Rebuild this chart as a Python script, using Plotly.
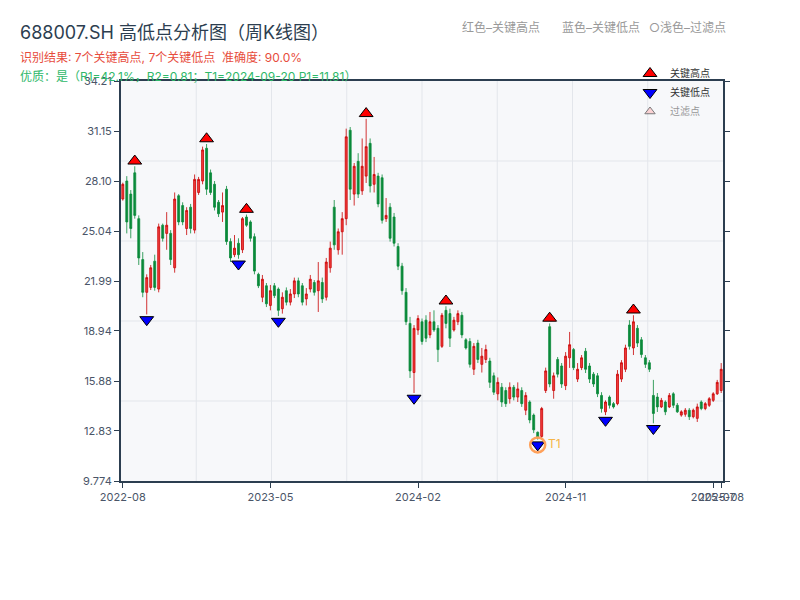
import pandas as pd
import plotly.graph_objects as go

# ---------------- data ----------------
fridays = pd.date_range("2022-08-26", "2025-08-08", freq="W-FRI")
closed_weeks = ["2022-10-07", "2023-01-27", "2023-10-06", "2024-02-16"]
dates = [d.strftime("%Y-%m-%d") for d in fridays if d.strftime("%Y-%m-%d") not in closed_weeks]

opens = [27.0, 28.1, 27.3, 28.6, 25.8, 23.3, 21.3, 21.6, 23.2, 21.5,
         25.4, 24.9, 24.9, 22.8, 27.2, 26.6, 25.2, 26.5, 25.1, 27.4,
         28.1, 30.1, 28.6, 27.9, 26.8, 26.2, 27.6, 24.4, 23.6, 24.3,
         23.9, 25.9, 25.6, 24.7, 22.4, 21.0, 21.7, 20.5, 21.7, 21.5,
         20.3, 21.4, 20.7, 21.2, 22.0, 21.7, 20.9, 21.5, 21.9, 21.4,
         21.9, 21.0, 22.8, 26.5, 23.9, 25.0, 25.8, 31.2, 27.3, 29.3,
         27.5, 28.4, 30.4, 27.9, 28.4, 28.3, 25.8, 26.5, 25.9, 24.1,
         22.9, 21.3, 19.4, 16.4, 19.0, 19.5, 19.6, 18.7, 19.5, 19.1,
         18.0, 20.2, 20.0, 19.0, 19.5, 19.9, 18.4, 18.3, 16.6, 18.2,
         16.9, 17.2, 17.1, 16.2, 15.1, 15.5, 15.3, 14.8, 15.5, 14.9,
         15.3, 14.1, 14.6, 13.8, 12.75, 12.5, 15.3, 19.2, 15.3, 17.2,
         16.8, 15.6, 17.3, 17.8, 16.0, 16.7, 17.7, 16.8, 16.3, 16.2,
         15.0, 14.0, 14.9, 14.5, 14.5, 16.0, 16.6, 19.3, 17.9, 19.1,
         18.4, 17.3, 17.0, 15.0, 14.9, 14.3, 14.6, 14.3, 15.1, 14.4,
         13.8, 13.85, 14.1, 13.7, 13.6, 14.6, 14.2, 14.4, 14.7, 15.1,
         15.3]
highs = [28.0, 28.4, 27.55, 29.0, 26.0, 23.76, 22.4, 22.97, 23.6, 25.5,
         25.5, 26.2, 25.1, 27.4, 27.3, 26.8, 26.5, 26.7, 28.5, 28.35,
         30.2, 30.36, 28.8, 28.1, 26.94, 27.4, 27.8, 24.6, 24.8, 24.6,
         25.9, 26.05, 25.7, 24.9, 22.5, 22.36, 21.87, 21.75, 21.87, 21.6,
         21.3, 21.6, 21.5, 22.2, 22.2, 21.87, 21.56, 22.36, 22.05, 23.15,
         22.2, 23.4, 24.4, 26.94, 25.2, 26.2, 31.3, 31.4, 29.2, 29.8,
         30.7, 31.9, 30.7, 29.57, 28.6, 28.5, 27.06, 26.75, 26.15, 24.3,
         23.1, 21.56, 19.8, 19.3, 19.9, 19.7, 19.9, 20.1, 20.2, 19.3,
         20.04, 20.45, 20.3, 19.8, 20.2, 20.1, 18.5, 18.5, 18.2, 18.4,
         17.9, 18.1, 17.3, 16.4, 16.1, 15.76, 15.5, 15.8, 15.64, 15.8,
         15.5, 15.2, 14.7, 13.9, 12.8, 14.3, 16.7, 19.4, 16.4, 17.35,
         16.98, 17.65, 18.88, 17.9, 16.98, 17.47, 17.9, 16.98, 16.43, 16.37,
         15.2, 14.7, 15.0, 14.6, 16.55, 17.16, 18.1, 19.6, 19.9, 19.3,
         18.57, 17.47, 17.16, 15.95, 15.15, 14.85, 14.7, 15.15, 15.2, 14.54,
         14.1, 14.23, 14.23, 14.2, 14.5, 14.7, 14.6, 14.9, 15.2, 15.95,
         16.98]
lows = [26.9, 24.9, 24.6, 25.8, 22.97, 21.0, 19.95, 21.44, 21.4, 21.3,
        24.4, 23.9, 22.97, 22.5, 25.4, 25.4, 24.8, 24.9, 24.9, 27.25,
        27.9, 27.25, 27.25, 26.3, 25.9, 25.6, 24.2, 23.15, 23.45, 23.35,
        23.7, 25.3, 24.4, 22.4, 21.56, 20.7, 20.4, 20.2, 20.95, 19.85,
        20.0, 20.5, 20.5, 20.95, 21.0, 20.5, 20.5, 21.3, 21.1, 20.1,
        20.65, 20.8, 22.5, 23.9, 23.6, 23.6, 25.4, 26.94, 26.6, 27.06,
        27.25, 27.98, 27.4, 27.4, 26.5, 25.5, 25.6, 24.4, 24.1, 22.66,
        21.15, 19.3, 16.07, 15.15, 18.7, 18.1, 18.26, 18.5, 18.88, 17.04,
        17.9, 19.1, 17.96, 18.9, 19.3, 18.5, 17.8, 16.7, 16.25, 16.98,
        16.4, 16.98, 15.46, 15.03, 14.7, 14.3, 14.3, 14.5, 14.7, 14.6,
        14.3, 13.8, 13.3, 12.7, 12.3, 12.4, 15.15, 15.5, 14.8, 16.1,
        15.46, 15.33, 16.68, 16.55, 15.82, 16.55, 16.37, 15.76, 15.52, 14.9,
        13.95, 13.8, 14.2, 14.2, 14.4, 15.82, 16.43, 17.8, 17.47, 17.96,
        17.3, 16.68, 16.43, 13.3, 13.99, 14.23, 13.8, 14.23, 14.23, 13.93,
        13.7, 13.7, 13.5, 13.6, 13.38, 14.1, 14.1, 14.3, 14.6, 15.03,
        15.15]
closes = [27.9, 25.6, 25.2, 26.0, 23.4, 21.3, 22.2, 22.8, 21.6, 25.3,
          24.6, 25.4, 23.3, 27.0, 25.6, 25.6, 26.3, 25.2, 28.2, 28.2,
          30.0, 27.6, 27.4, 26.5, 26.1, 26.6, 24.4, 23.4, 24.0, 23.6,
          25.8, 25.4, 24.6, 22.6, 21.7, 22.1, 20.6, 21.4, 21.1, 20.2,
          21.0, 20.7, 21.2, 22.0, 21.2, 20.7, 21.2, 22.1, 21.3, 22.0,
          20.9, 23.15, 24.0, 24.2, 25.0, 25.8, 30.8, 27.6, 29.0, 27.3,
          29.0, 30.2, 27.8, 28.5, 26.7, 25.7, 26.0, 24.6, 24.3, 22.9,
          21.4, 19.5, 16.5, 19.1, 19.7, 18.3, 18.5, 19.5, 19.0, 17.8,
          19.9, 19.4, 18.5, 19.6, 20.0, 18.7, 17.9, 16.9, 18.0, 17.2,
          17.4, 17.8, 15.8, 15.2, 15.8, 14.6, 14.5, 15.5, 14.9, 15.4,
          14.5, 15.0, 13.5, 12.9, 12.4, 14.2, 16.5, 15.7, 16.2, 16.3,
          15.7, 17.4, 18.1, 16.7, 16.6, 17.3, 16.6, 16.0, 15.7, 15.1,
          14.2, 14.6, 14.4, 14.3, 16.3, 17.0, 17.9, 18.0, 19.5, 18.2,
          17.5, 16.9, 16.6, 13.9, 14.3, 14.7, 14.0, 15.0, 14.4, 14.0,
          14.0, 14.1, 13.7, 14.1, 14.3, 14.2, 14.5, 14.8, 15.1, 15.8,
          16.6]

high_idx = [3, 21, 31, 61, 81, 107, 128]      # key highs
low_idx = [6, 29, 39, 73, 104, 121, 133]      # key lows
filtered_idx = []                             # filtered points (none shown)
t1_idx = 104

y_tick_labels = ["9.774", "12.83", "15.88", "18.94", "21.99", "25.04", "28.10", "31.15", "34.21"]
x_tick_idx = [0, 37, 74, 111, 148, 150]

title_text = "688007.SH 高低点分析图（周K线图）"
sub1_text = "识别结果: 7个关键高点, 7个关键低点  准确度: 90.0%"
sub2_text = "优质：是（R1=42.1%，R2=0.81；T1=2024-09-20 P1=11.81）"
hint_texts = ["红色–关键高点", "蓝色–关键低点", "○浅色–过滤点"]

# ---------------- layout helpers ----------------
# the page body adds an 8px offset; screen positions below are compensated
OFF = 8
W, H = 800, 600
PLOT_L, PLOT_R, PLOT_T, PLOT_B = 121, 723, 81, 481      # target screen pixels
L_M, R_M = PLOT_L - OFF, W - (PLOT_R - OFF)
T_M, B_M = PLOT_T - OFF, H - (PLOT_B - OFF)
PW, PH = PLOT_R - PLOT_L, PLOT_B - PLOT_T
def xp(px):
    return (px - PLOT_L) / PW
def yp(py):
    return (PLOT_B - py) / PH

MARK_OFF = 0.32
FONT = "Inter, 'Noto Sans CJK SC', sans-serif"

fig = go.Figure()
fig.add_trace(go.Candlestick(
    x=dates, open=opens, high=highs, low=lows, close=closes,
    increasing=dict(line=dict(color="#c80000", width=0.8), fillcolor="#f23c3c"),
    decreasing=dict(line=dict(color="#0a8a3a", width=0.8), fillcolor="#0a8a3a"),
    whiskerwidth=0, showlegend=False, hoverinfo="skip", name="K线"))

fig.add_trace(go.Scatter(
    x=[dates[i] for i in high_idx], y=[highs[i] + MARK_OFF for i in high_idx],
    mode="markers", name="关键高点",
    marker=dict(symbol="triangle-up", size=12, color="#ff0000", line=dict(color="#000000", width=1))))
fig.add_trace(go.Scatter(
    x=[dates[i] for i in low_idx], y=[lows[i] - MARK_OFF for i in low_idx],
    mode="markers", name="关键低点",
    marker=dict(symbol="triangle-down", size=12, color="#0000ff", line=dict(color="#000000", width=1))))
fig.add_trace(go.Scatter(
    x=[dates[i] for i in filtered_idx] or [None], y=[highs[i] for i in filtered_idx] or [None],
    mode="markers", name="过滤点", visible="legendonly",
    marker=dict(symbol="triangle-up", size=9, color="#ffb0b0", line=dict(color="#000000", width=1))))
fig.add_trace(go.Scatter(
    x=[dates[t1_idx]], y=[lows[t1_idx] - MARK_OFF], mode="markers+text",
    text=["T1"], textposition="middle right",
    textfont=dict(color="#f5b547", size=12, family=FONT),
    marker=dict(symbol="circle-open", size=15, line=dict(color="#f39c12", width=2.5)),
    showlegend=False, hoverinfo="skip"))

shapes = []
for k in range(1, 8):
    shapes.append(dict(type="line", xref="paper", yref="paper", x0=k / 8, x1=k / 8, y0=0, y1=1,
                       line=dict(color="#e3e6eb", width=1), layer="below"))
for k in range(1, 5):
    shapes.append(dict(type="line", xref="paper", yref="paper", x0=0, x1=1, y0=k / 5, y1=k / 5,
                       line=dict(color="#e3e6eb", width=1), layer="below"))

y_vals = [float(t) for t in y_tick_labels]
annotations = [
    dict(text=title_text, x=xp(18), y=yp(33), xref="paper", yref="paper", xanchor="left",
         yanchor="middle", showarrow=False, font=dict(size=18, color="#2c3e50", family=FONT)),
    dict(text=sub1_text, x=xp(18), y=yp(58), xref="paper", yref="paper", xanchor="left",
         yanchor="middle", showarrow=False, font=dict(size=12, color="#e74c3c", family=FONT)),
    dict(text=sub2_text, x=xp(18), y=yp(76), xref="paper", yref="paper", xanchor="left",
         yanchor="middle", showarrow=False, font=dict(size=12, color="#2fb86a", family=FONT)),
]
for txt, px in zip(hint_texts, [460, 560, 647]):
    annotations.append(dict(text=txt, x=xp(px), y=yp(28), xref="paper", yref="paper",
                            xanchor="left", yanchor="middle", showarrow=False,
                            font=dict(size=12, color="#999999", family=FONT)))

fig.update_layout(
    width=W, height=H, margin=dict(l=L_M, r=R_M, t=T_M, b=B_M, autoexpand=False),
    paper_bgcolor="#ffffff", plot_bgcolor="#f7f8fa",
    font=dict(family=FONT, size=11, color="#4a5568"),
    shapes=shapes, annotations=annotations,
    legend=dict(x=xp(630), y=yp(59), xanchor="left", yanchor="top",
                bgcolor="rgba(0,0,0,0)", font=dict(size=10, color="#333333"),
                itemwidth=30, tracegroupgap=0, itemclick=False, itemdoubleclick=False),
    xaxis=dict(type="category", range=[-0.45, len(dates) - 0.55], rangeslider=dict(visible=False),
               tickmode="array", tickvals=[dates[i] for i in x_tick_idx],
               ticktext=[dates[i][:7] for i in x_tick_idx],
               showgrid=False, showline=True, linecolor="#2c3e50", linewidth=2, mirror=True,
               ticks="outside", ticklen=5, tickcolor="#2c3e50", tickangle=0,
               tickfont=dict(size=11, color="#4a5568"), zeroline=False),
    yaxis=dict(range=[y_vals[0], y_vals[-1]], tickmode="array", tickvals=y_vals, ticktext=y_tick_labels,
               showgrid=False, showline=True, linecolor="#2c3e50", linewidth=2, mirror="ticks",
               ticks="outside", ticklen=5, tickcolor="#2c3e50",
               tickfont=dict(size=11, color="#4a5568"), zeroline=False),
    hovermode=False,
)

fig.write_html("out.html")
